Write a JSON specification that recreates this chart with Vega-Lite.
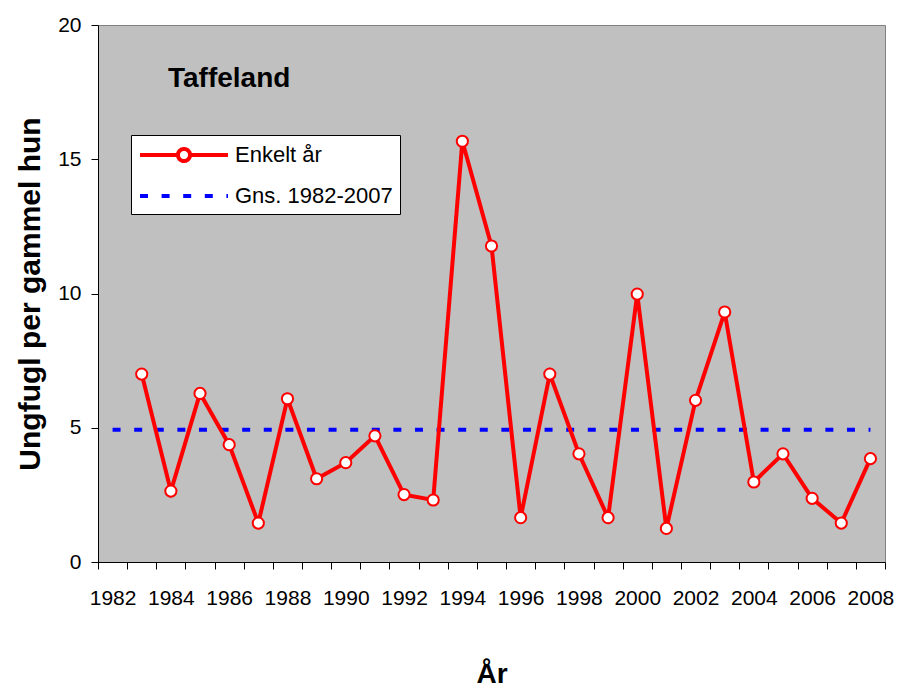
{
  "$schema": "https://vega.github.io/schema/vega-lite/v6.json",
  "autosize": "none",
  "width": 787,
  "height": 537,
  "padding": {"left": 98, "top": 25, "right": 12, "bottom": 125},
  "background": "white",
  "config": {
    "font": "Liberation Sans",
    "view": {"fill": "#C0C0C0", "stroke": "#808080", "strokeWidth": 1},
    "axis": {"domainColor": "#000000", "tickColor": "#000000", "labelColor": "#000000", "titleColor": "#000000", "grid": false, "labelFont": "Liberation Sans", "titleFont": "Liberation Sans"}
  },
  "datasets": {
    "obs": [
      {"year": 1983, "value": 7.0, "series": "Enkelt år"},
      {"year": 1984, "value": 2.64, "series": "Enkelt år"},
      {"year": 1985, "value": 6.28, "series": "Enkelt år"},
      {"year": 1986, "value": 4.37, "series": "Enkelt år"},
      {"year": 1987, "value": 1.45, "series": "Enkelt år"},
      {"year": 1988, "value": 6.08, "series": "Enkelt år"},
      {"year": 1989, "value": 3.1, "series": "Enkelt år"},
      {"year": 1990, "value": 3.7, "series": "Enkelt år"},
      {"year": 1991, "value": 4.7, "series": "Enkelt år"},
      {"year": 1992, "value": 2.51, "series": "Enkelt år"},
      {"year": 1993, "value": 2.31, "series": "Enkelt år"},
      {"year": 1994, "value": 15.67, "series": "Enkelt år"},
      {"year": 1995, "value": 11.77, "series": "Enkelt år"},
      {"year": 1996, "value": 1.65, "series": "Enkelt år"},
      {"year": 1997, "value": 7.0, "series": "Enkelt år"},
      {"year": 1998, "value": 4.03, "series": "Enkelt år"},
      {"year": 1999, "value": 1.65, "series": "Enkelt år"},
      {"year": 2000, "value": 9.98, "series": "Enkelt år"},
      {"year": 2001, "value": 1.25, "series": "Enkelt år"},
      {"year": 2002, "value": 6.02, "series": "Enkelt år"},
      {"year": 2003, "value": 9.31, "series": "Enkelt år"},
      {"year": 2004, "value": 2.98, "series": "Enkelt år"},
      {"year": 2005, "value": 4.03, "series": "Enkelt år"},
      {"year": 2006, "value": 2.37, "series": "Enkelt år"},
      {"year": 2007, "value": 1.45, "series": "Enkelt år"},
      {"year": 2008, "value": 3.85, "series": "Enkelt år"}
    ],
    "avg": [
      {"year": 1982, "value": 4.93, "series": "Gns. 1982-2007"},
      {"year": 2008, "value": 4.93, "series": "Gns. 1982-2007"}
    ],
    "label": [
      {"year": 1986, "value": 18.0, "text": "Taffeland"}
    ]
  },
  "layer": [
    {
      "data": {"name": "avg"},
      "mark": {"type": "line", "strokeWidth": 4, "strokeDash": [8, 13.6]},
      "encoding": {
        "x": {"field": "year", "type": "ordinal", "bandPosition": 0.5,
          "scale": {"type": "band", "domain": [1982,1983,1984,1985,1986,1987,1988,1989,1990,1991,1992,1993,1994,1995,1996,1997,1998,1999,2000,2001,2002,2003,2004,2005,2006,2007,2008], "paddingInner": 0, "paddingOuter": 0},
          "axis": {"title": "År", "titleFontSize": 28, "titleFontWeight": "bold", "titlePadding": 52, "labelAngle": 0, "labelFontSize": 21, "labelPadding": 18, "tickSize": 7, "tickBand": "extent", "labelExpr": "datum.value % 2 == 0 ? datum.value + '' : ''"}},
        "y": {"field": "value", "type": "quantitative",
          "scale": {"domain": [0, 20], "nice": false},
          "axis": {"title": "Ungfugl per gammel hun", "titleFontSize": 30, "titleFontWeight": "bold", "titlePadding": 12, "values": [0, 5, 10, 15, 20], "labelFontSize": 21, "labelPadding": 10, "tickSize": 7}},
        "color": {"field": "series", "type": "nominal",
          "scale": {"domain": ["Enkelt år", "Gns. 1982-2007"], "range": ["#FF0000", "#0000FF"]},
          "legend": {
            "title": null, "orient": "none", "legendX": 33, "legendY": 110,
            "fillColor": "#FFFFFF", "strokeColor": "#000000", "padding": 7,
            "labelFontSize": 22, "labelFont": "Liberation Sans", "labelColor": "#000000",
            "symbolSize": 484, "symbolStrokeWidth": 4, "symbolOffset": 33, "labelOffset": 38, "rowPadding": 13,
            "symbolType": "M-4,0H4",
            "encode": {"symbols": {"update": {
              "shape": {"signal": "datum.value === 'Enkelt år' ? 'M-4,0H-0.55M0.55,0H4M-0.55,0A0.55,0.55 0 1,1 0.55,0A0.55,0.55 0 1,1 -0.55,0' : 'M-4,0H4'"},
              "fill": {"signal": "datum.value === 'Enkelt år' ? '#FFFFFF' : 'transparent'"},
              "stroke": {"signal": "datum.value === 'Enkelt år' ? '#FF0000' : '#0000FF'"},
              "strokeDash": {"signal": "datum.value === 'Enkelt år' ? [1, 0] : [8, 13.6]"},
              "opacity": {"value": 1}
            }}}
          }}
      }
    },
    {
      "data": {"name": "obs"},
      "mark": {"type": "line", "strokeWidth": 4},
      "encoding": {
        "x": {"field": "year", "type": "ordinal", "bandPosition": 0.5},
        "y": {"field": "value", "type": "quantitative"},
        "color": {"field": "series", "type": "nominal"}
      }
    },
    {
      "data": {"name": "obs"},
      "mark": {"type": "point", "filled": true, "fill": "#FFFFFF", "stroke": "#FF0000", "strokeWidth": 2, "size": 125, "opacity": 1},
      "encoding": {
        "x": {"field": "year", "type": "ordinal", "bandPosition": 0.5},
        "y": {"field": "value", "type": "quantitative"}
      }
    },
    {
      "data": {"name": "label"},
      "mark": {"type": "text", "fontSize": 28, "fontWeight": "bold", "font": "Liberation Sans", "color": "#000000", "align": "center", "baseline": "middle"},
      "encoding": {
        "x": {"field": "year", "type": "ordinal", "bandPosition": 0.5},
        "y": {"field": "value", "type": "quantitative"},
        "text": {"field": "text"}
      }
    }
  ]
}
